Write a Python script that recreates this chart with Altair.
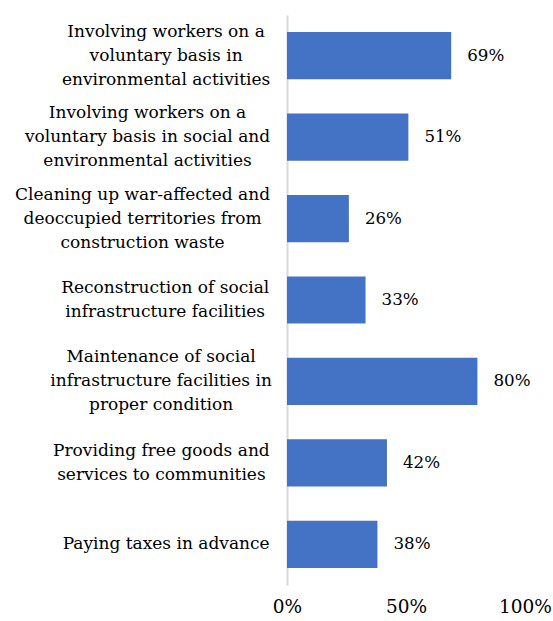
import altair as alt
import pandas as pd

# ---- data ----
label_lines = [
    ["Involving workers on a", "voluntary basis in", "environmental activities"],
    ["Involving workers on a", "voluntary basis in social and", "environmental activities"],
    ["Cleaning up war-affected and", "deoccupied territories from", "construction waste"],
    ["Reconstruction of social", "infrastructure facilities"],
    ["Maintenance of social", "infrastructure facilities in", "proper condition"],
    ["Providing free goods and", "services to communities"],
    ["Paying taxes in advance"],
]
values = [69, 51, 26, 33, 80, 42, 38]
x_ticks = [0, 50, 100]

categories = ["|".join(l) for l in label_lines]
df = pd.DataFrame({"category": categories, "value": values})

FONT = "DejaVu Serif"
LABEL_SIZE = 17
LINE_H = 24
# approximate relative advance widths (Times-like table, scaled for DejaVu Serif)
W = {' ': 250, '-': 333, 'a': 444, 'b': 500, 'c': 444, 'd': 500, 'e': 444, 'f': 333, 'g': 500,
     'h': 500, 'i': 278, 'j': 278, 'k': 500, 'l': 278, 'm': 778, 'n': 500, 'o': 500, 'p': 500,
     'q': 500, 'r': 333, 's': 389, 't': 278, 'u': 500, 'v': 500, 'w': 722, 'x': 500, 'y': 500,
     'z': 444, 'I': 333, 'C': 667, 'R': 667, 'M': 889, 'P': 556}
SCALE = 1.25


def text_w(s):
    return sum(W.get(ch, 500) for ch in s) * LABEL_SIZE * SCALE / 1000.0


GAP = 19
pad_conditions = [
    {"test": "datum.value == '%s'" % c, "value": GAP + max(text_w(s) for s in lines) / 2.0}
    for c, lines in zip(categories, label_lines)
]
offset_conditions = [
    {"test": "datum.value == '%s'" % c, "value": -(len(lines) - 1) * LINE_H / 2.0}
    for c, lines in zip(categories, label_lines)
]

BLUE = "#4472C4"

base = alt.Chart(df).encode(
    y=alt.Y(
        "category:N",
        sort=categories,
        scale=alt.Scale(paddingInner=0.42, paddingOuter=0.21),
        axis=alt.Axis(
            title=None,
            ticks=False,
            tickSize=0,
            labelExpr="split(datum.value, '|')",
            labelAlign="center",
            labelBaseline="middle",
            labelFont=FONT,
            labelFontSize=LABEL_SIZE,
            labelLineHeight=LINE_H,
            labelColor="#000000",
            labelPadding={"condition": pad_conditions, "value": 120},
            labelOffset={"condition": offset_conditions, "value": 0},
            labelLimit=0,
            domainColor="#d9d9d9",
            domainWidth=2,
        ),
    ),
    x=alt.X(
        "value:Q",
        scale=alt.Scale(domain=[0, 100], nice=False),
        axis=alt.Axis(
            title=None,
            values=x_ticks,
            labelExpr="datum.value + '%'",
            ticks=False,
            tickSize=0,
            domain=False,
            grid=False,
            labelFont=FONT,
            labelFontSize=18.5,
            labelColor="#000000",
            labelPadding=12,
            labelFlush=False,
        ),
    ),
)

bars = base.mark_bar(color=BLUE)

text = base.mark_text(
    align="left", baseline="middle", dx=16, font=FONT, fontSize=16.7, color="#000000"
).encode(text=alt.Text("label:N")).transform_calculate(label="datum.value + '%'")

chart = (
    alt.layer(bars, text)
    .properties(
        width=238,
        height=570,
        autosize=alt.AutoSizeParams(type="none"),
        padding={"left": 287, "top": 15, "right": 28, "bottom": 36},
        background="white",
    )
    .configure(font=FONT)
    .configure_view(stroke=None)
)

chart.save("out.html", embed_options={"renderer": "svg", "actions": False})
